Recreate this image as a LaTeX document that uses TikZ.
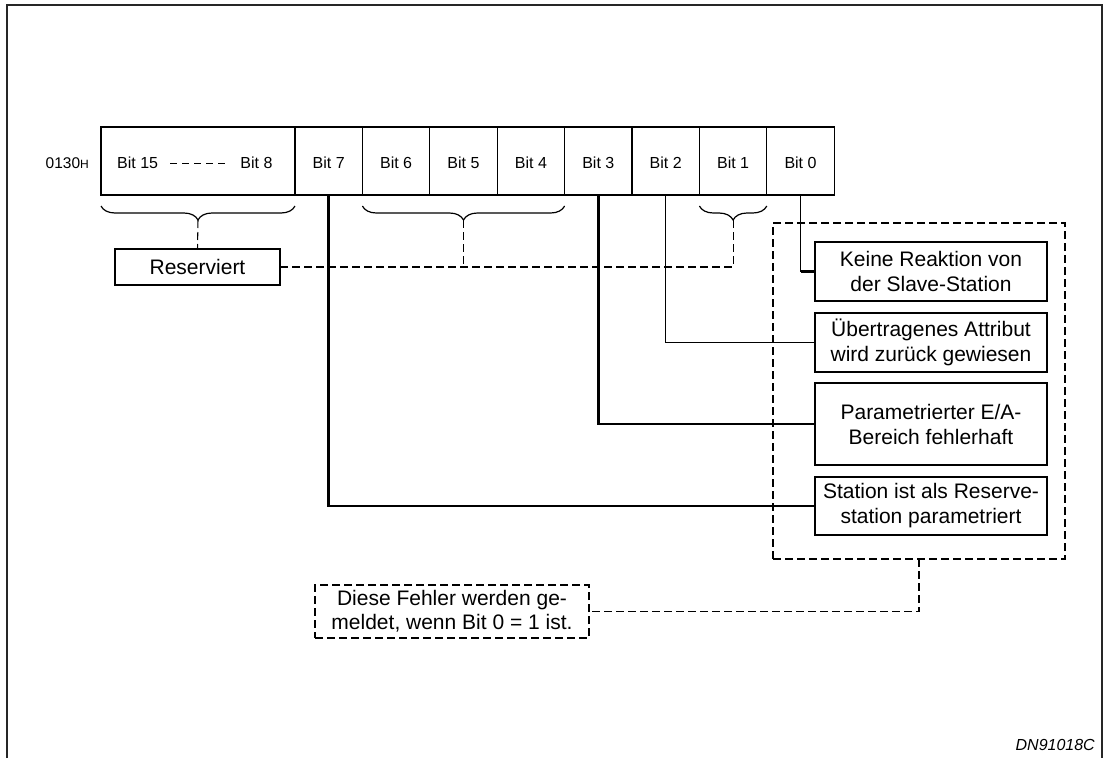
\documentclass[tikz,border=0pt]{standalone}
\usepackage{fontspec}
\setmainfont{Liberation Sans}
\usetikzlibrary{decorations.pathreplacing}

\begin{document}
\begin{tikzpicture}[x=1pt,y=-1pt,
  cell/.style={draw, line width=1.3pt, minimum width=67.4pt, minimum height=68pt,
    inner sep=0pt, outer sep=0pt, text height=15pt, text depth=0pt,
    font=\fontsize{16}{19}\selectfont},
  bitlbl/.style={inner sep=0pt, font=\fontsize{16}{19}\selectfont},
  errbox/.style={draw, line width=1.2pt, minimum width=232pt, inner sep=0pt,
    outer sep=0pt, align=center, font=\fontsize{21}{25}\selectfont},
  resbox/.style={draw, line width=1.2pt, inner sep=0pt, outer sep=0pt,
    font=\fontsize{21}{25}\selectfont},
  dashline/.style={line width=1.05pt, dash pattern=on 8pt off 4pt},
  thinlink/.style={line width=1.3pt},
  thicklink/.style={line width=2.6pt},
  bracestyle/.style={line width=1.2pt, decorate,
    decoration={brace, amplitude=14pt}},
]
\useasboundingbox (0,0) rectangle (1103,758);

% page frame, open at the bottom
\draw[line width=2pt, black!85] (7,758) -- (7,5) -- (1102,5) -- (1102,758);

% register address
\node[anchor=east, inner sep=0pt, font=\fontsize{15.5}{18}\selectfont] (addr) at (89,163)
  {0130{\fontsize{12}{14}\selectfont H}};

% register cells
\node[cell, minimum width=194pt] (bhi) at (198,161) {};
\node[cell] (b7) at (328.7,161) {Bit 7};
\node[cell] (b6) at (396.1,161) {Bit 6};
\node[cell] (b5) at (463.5,161) {Bit 5};
\node[cell] (b4) at (530.9,161) {Bit 4};
\node[cell] (b3) at (598.3,161) {Bit 3};
\node[cell] (b2) at (665.7,161) {Bit 2};
\node[cell] (b1) at (733.1,161) {Bit 1};
\node[cell] (b0) at (800.5,161) {Bit 0};

\node[bitlbl] (t15) at (137.7,163) {Bit 15};
\node[bitlbl] (t8) at (256.5,163) {Bit 8};
\draw[line width=1pt, dash pattern=on 7pt off 5pt]
  ([xshift=12pt]t15.east) -- ([xshift=-12pt]t8.west);

% braces under the reserved bits
\draw[bracestyle] ([yshift=-11pt]bhi.south east) -- ([yshift=-11pt]bhi.south west);
\draw[bracestyle] ([yshift=-11pt]b4.south east) -- ([yshift=-11pt]b6.south west);
\draw[bracestyle] ([yshift=-11pt]b1.south east) -- ([yshift=-11pt]b1.south west);
\coordinate (tip1) at ([yshift=-25pt]bhi.south);
\coordinate (tip2) at ([yshift=-25pt]b5.south);
\coordinate (tip3) at ([yshift=-25pt]b1.south);

% reserved label
\node[resbox, minimum width=165pt, minimum height=36pt] (res) at (197.5,267) {Reserviert};
\draw[dashline] (tip1) -- (res.north);
\draw[dashline] (res.east) -| (tip3);
\draw[dashline] (tip2) -- (tip2 |- res.east);

% error descriptions
\node[draw, dashline, minimum width=292pt, minimum height=336pt, inner sep=0pt,
  outer sep=0pt] (grp) at (919,391) {};
\node[errbox, minimum height=59pt] (k1) at (931,271.5) {Keine Reaktion von\\der Slave-Station};
\node[errbox, minimum height=59pt] (k2) at (931,342.5) {Übertragenes Attribut\\wird zurück gewiesen};
\node[errbox, minimum height=82pt] (k3) at (931,424) {Parametrierter E/A-\\Bereich fehlerhaft};
\node[errbox, minimum height=58pt] (k4) at (931,506) {Station ist als Reserve-\\station parametriert};

\draw[thicklink] (b7.south) |- (k4.west);
\draw[thicklink] (b3.south) |- (k3.west);
\draw[thinlink] (b2.south) |- (k2.west);
\draw[thinlink] (b0.south) |- (k1.west);
\draw[line width=2.2pt] (b0.south |- k1.west) -- (k1.west);

% note on the error group
\node[draw, dashline, align=center, inner sep=0pt, outer sep=0pt,
  minimum width=274pt, minimum height=53pt, font=\fontsize{21}{24}\selectfont]
  (note) at (452,611.5) {Diese Fehler werden ge-\\meldet, wenn Bit 0 = 1 ist.};
\draw[dashline] (grp.south) |- (note.east);

% drawing number
\node[anchor=east, inner sep=0pt, font=\fontsize{16}{19}\selectfont\itshape] (code)
  at (1095,745) {DN91018C};
\end{tikzpicture}
\end{document}
